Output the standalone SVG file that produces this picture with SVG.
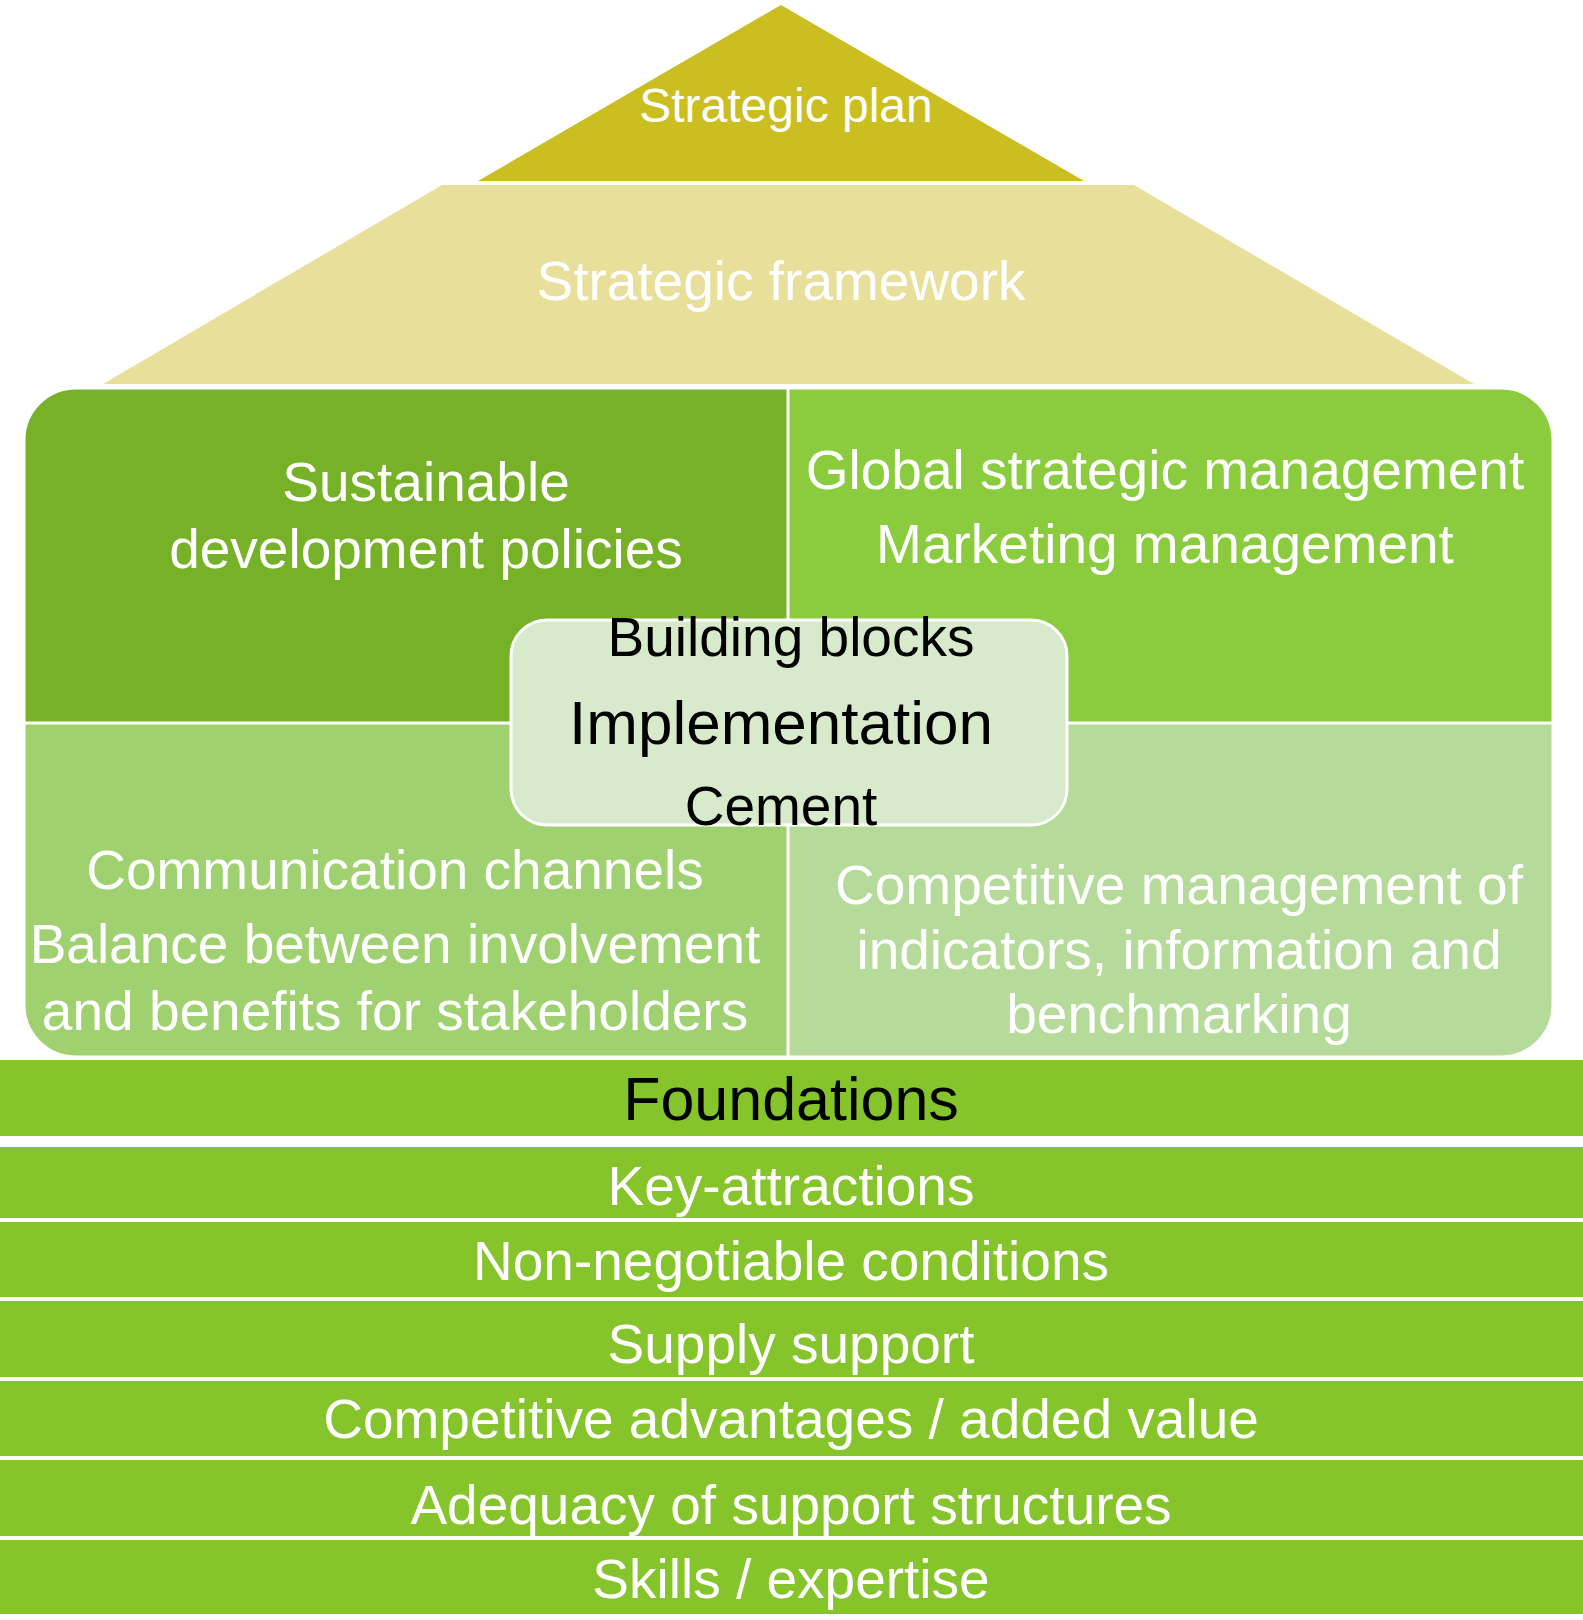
<svg xmlns="http://www.w3.org/2000/svg" width="1583" height="1620" viewBox="0 0 1583 1620">
<style>
text{font-family:"Liberation Sans",Arial,Helvetica,sans-serif;text-anchor:middle}
.w{fill:#ffffff;font-size:55px}
.b{fill:#000000;font-size:55px}
.band{fill:#85c42a}
</style>
<defs>
<clipPath id="blk"><rect x="24" y="388" width="1529" height="669" rx="52" ry="52"/></clipPath>
</defs>
<rect width="1583" height="1620" fill="#ffffff"/>
<g id="plan">
<polygon points="781,5 1084,181 478,181" fill="#cbbe21"/>
<text class="w" x="786" y="122" style="font-size:48px">Strategic plan</text>
</g>
<g id="framework">
<polygon points="442,185 1134,185 1474,384 103,384" fill="#e8e09a"/>
<text class="w" x="781" y="300">Strategic framework</text>
</g>
<g id="blocks">
<g clip-path="url(#blk)">
<rect x="24" y="388" width="764" height="335" fill="#77b128"/>
<rect x="788" y="388" width="765" height="335" fill="#8bcc3e"/>
<rect x="24" y="723" width="764" height="334" fill="#a0d170"/>
<rect x="788" y="723" width="765" height="334" fill="#b6da99"/>
<line x1="788" y1="388" x2="788" y2="1057" stroke="#ffffff" stroke-width="3"/>
<line x1="24" y1="723" x2="1553" y2="723" stroke="#ffffff" stroke-width="3"/>
</g>
<rect x="24" y="388" width="1529" height="669" rx="52" ry="52" fill="none" stroke="#ffffff" stroke-width="3"/>
</g>
<g id="sustainable">
<text class="w" x="426" y="501">Sustainable</text>
<text class="w" x="426" y="568">development policies</text>
</g>
<g id="global">
<text class="w" x="1165" y="489">Global strategic management</text>
<text class="w" x="1165" y="563">Marketing management</text>
</g>
<g id="communication">
<text class="w" x="395" y="889">Communication channels</text>
<text class="w" x="395" y="963">Balance between involvement</text>
<text class="w" x="395" y="1030">and benefits for stakeholders</text>
</g>
<g id="competitive">
<text class="w" x="1179" y="904">Competitive management of</text>
<text class="w" x="1179" y="969">indicators, information and</text>
<text class="w" x="1179" y="1033">benchmarking</text>
</g>
<g id="center">
<rect x="511" y="620" width="556" height="205" rx="36" ry="36" fill="#d8eacc" stroke="#ffffff" stroke-width="3"/>
<text class="b" x="791" y="656">Building blocks</text>
<text class="b" x="781" y="744" style="font-size:62px">Implementation</text>
<text class="b" x="781" y="825">Cement</text>
</g>
<g id="foundations">
<rect class="band" x="0" y="1060" width="1583" height="76"/>
<text class="b" x="791" y="1120" style="font-size:61px">Foundations</text>
</g>
<g id="key">
<rect class="band" x="0" y="1147" width="1583" height="71"/>
<text class="w" x="791" y="1205">Key-attractions</text>
</g>
<g id="nonneg">
<rect class="band" x="0" y="1222" width="1583" height="75"/>
<text class="w" x="791" y="1280">Non-negotiable conditions</text>
</g>
<g id="supply">
<rect class="band" x="0" y="1301" width="1583" height="76"/>
<text class="w" x="791" y="1363">Supply support</text>
</g>
<g id="advantages">
<rect class="band" x="0" y="1381" width="1583" height="75"/>
<text class="w" x="791" y="1438">Competitive advantages / added value</text>
</g>
<g id="adequacy">
<rect class="band" x="0" y="1460" width="1583" height="76"/>
<text class="w" x="791" y="1524">Adequacy of support structures</text>
</g>
<g id="skills">
<rect class="band" x="0" y="1540" width="1583" height="74"/>
<text class="w" x="791" y="1598">Skills / expertise</text>
</g>
<g id="connectors"/>
</svg>
